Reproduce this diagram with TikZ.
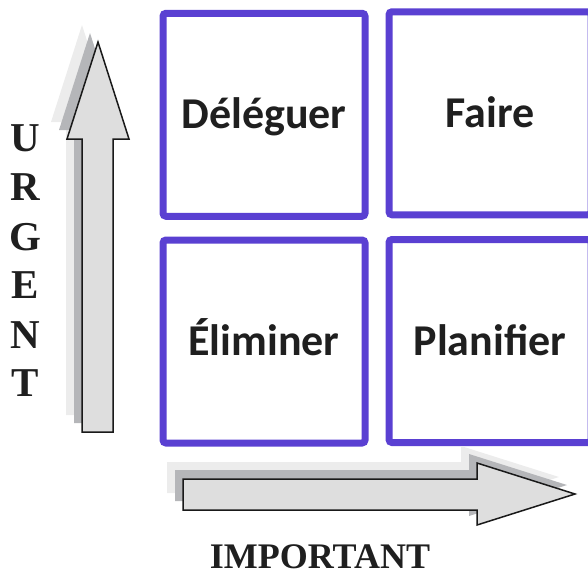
\documentclass[tikz,border=0pt]{standalone}
\usepackage{fontspec}
\setmainfont{Liberation Serif}
\newfontfamily\labelfont{Carlito}
\usetikzlibrary{shadows}
\definecolor{boxblue}{HTML}{5A40D2}
\definecolor{arrowfill}{HTML}{DEDEDE}
\definecolor{shadowdark}{HTML}{B5B6B9}
\definecolor{shadowlight}{HTML}{ECECEC}
\begin{document}
\begin{tikzpicture}[x=1pt,y=-1pt,
  quadrant/.style={draw=boxblue, line width=7pt, rounded corners=3pt, fill=white,
    minimum width=202pt, minimum height=203pt, inner sep=0pt,
    text height=28pt, text depth=0pt,
    font=\labelfont\bfseries\fontsize{44}{50}\selectfont, text=black!88,
    drop shadow={shadow xshift=1.5pt, shadow yshift=-2.5pt, opacity=0.25, fill=black!60}},
  axisletter/.style={font=\bfseries\fontsize{41}{44}\selectfont, text=black!88, anchor=base, inner sep=0pt},
  bigarrow/.style={draw=black!90, line width=1.5pt, fill=arrowfill, line join=miter},
  shadowarrow/.style={fill=shadowdark},
  fadearrow/.style={fill=shadowlight}
]
\useasboundingbox (0,0) rectangle (588,576);

% four quadrants
\node[quadrant] (delegate) at (264,114.75) {Déléguer};
\node[quadrant] (do)       at (490,113.25) {Faire};
\node[quadrant] (drop)     at (264,341.5)  {Éliminer};
\node[quadrant] (plan)     at (490,341)    {Planifier};

% vertical axis arrow with two stacked shadows
\foreach \dx/\dy/\st in {-16/-17/fadearrow, -8/-9/shadowarrow}{
  \fill[\st, shift={(\dx,\dy)}] (98,42) -- (129,139) -- (113,139) -- (113,432)
    -- (82,432) -- (82,139) -- (67,139) -- cycle;
}
\draw[bigarrow] (98,42) -- (129,139) -- (113,139) -- (113,432)
  -- (82,432) -- (82,139) -- (67,139) -- cycle;

% horizontal axis arrow with two stacked shadows
\foreach \dx/\dy/\st in {-16/-17/fadearrow, -8/-9/shadowarrow}{
  \fill[\st, shift={(\dx,\dy)}] (575,494) -- (477,525) -- (477,510) -- (183,510)
    -- (183,479) -- (477,479) -- (477,463) -- cycle;
}
\draw[bigarrow] (575,494) -- (477,525) -- (477,510) -- (183,510)
  -- (183,479) -- (477,479) -- (477,463) -- cycle;

% axis captions
\foreach \ch/\yb [count=\i] in {U/151, R/200, G/250, E/298, N/348, T/396}{
  \node[axisletter] (urgent-\i) at (25,\yb) {\ch};
}
\node[font=\bfseries\fontsize{36}{40}\selectfont, text=black!88, anchor=base, inner sep=0pt]
  (important) at (320,568) {IMPORTANT};
\end{tikzpicture}
\end{document}
